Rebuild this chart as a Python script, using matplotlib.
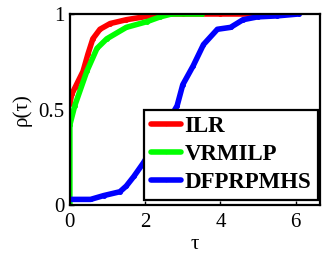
import matplotlib
matplotlib.use("Agg")
import matplotlib.pyplot as plt

# ---------------- data ----------------
ilr_tau = [0, 0.05, 0.15, 0.35, 0.48, 0.61, 0.8, 1.07, 1.5, 2.13, 2.5, 3.0, 4.0, 5.15]
ilr_rho = [0.53, 0.58, 0.62, 0.70, 0.79, 0.87, 0.92, 0.95, 0.97, 0.99, 1.0, 1.0, 1.0, 1.0]

vrm_tau = [0, 0, 0.13, 0.45, 0.72, 0.98, 1.5, 2.05, 2.4, 2.7, 3.5]
vrm_rho = [0.0, 0.42, 0.52, 0.70, 0.82, 0.87, 0.93, 0.96, 0.985, 1.0, 1.0]

dfp_tau = [0, 0.55, 0.9, 1.33, 1.5, 1.7, 1.95, 2.2, 2.5, 2.85, 3.0, 3.28, 3.55,
           3.92, 4.27, 4.6, 4.99, 5.5, 6.08]
dfp_rho = [0.03, 0.03, 0.05, 0.07, 0.10, 0.15, 0.22, 0.30, 0.40, 0.52, 0.63, 0.73,
           0.84, 0.92, 0.93, 0.97, 0.985, 0.99, 1.0]

labels = ["ILR", "VRMILP", "DFPRPMHS"]
colors = ["#ff0000", "#00ff00", "#0000ff"]

xticks = [0, 2, 4, 6]
yticks = [0, 0.5, 1]
ytick_labels = ["0", "0.5", "1"]

# ---------------- plotting ----------------
plt.rcParams["font.family"] = ["Liberation Serif", "DejaVu Serif"]

fig = plt.figure(figsize=(3.28, 2.59), dpi=100)
ax = fig.add_axes([0.213, 0.208, 0.763, 0.738])

curves = [(ilr_tau, ilr_rho), (vrm_tau, vrm_rho), (dfp_tau, dfp_rho)]
for (x, y), c, lab in zip(curves, colors, labels):
    ax.plot(x, y, color=c, lw=4, marker='.', markersize=5,
            solid_joinstyle='round', solid_capstyle='round', label=lab)

ax.set_xlim(0, 6.65)
ax.set_ylim(0, 1)
ax.set_xticks(xticks)
ax.set_xticklabels([str(t) for t in xticks])
ax.set_yticks(yticks)
ax.set_yticklabels(ytick_labels)
ax.tick_params(direction='in', length=3, labelsize=15, width=1)
ax.tick_params(axis='x', pad=6)
ax.tick_params(axis='y', pad=4)
for s in ax.spines.values():
    s.set_linewidth(1.6)

ax.set_xlabel("τ", fontsize=15, labelpad=2)
ax.set_ylabel("ρ(τ)", fontsize=15, labelpad=5)

leg = ax.legend(loc='lower right', bbox_to_anchor=(0.992, 0.026), borderaxespad=0,
                fancybox=False, framealpha=1, edgecolor='black',
                prop={'family': 'Liberation Serif', 'weight': 'bold', 'size': 16.5},
                handlelength=1.3, handletextpad=0.15, borderpad=0.3, labelspacing=0.3,
                markerscale=0.6)
leg.get_frame().set_linewidth(1.6)

fig.savefig("out.png", dpi=100)
